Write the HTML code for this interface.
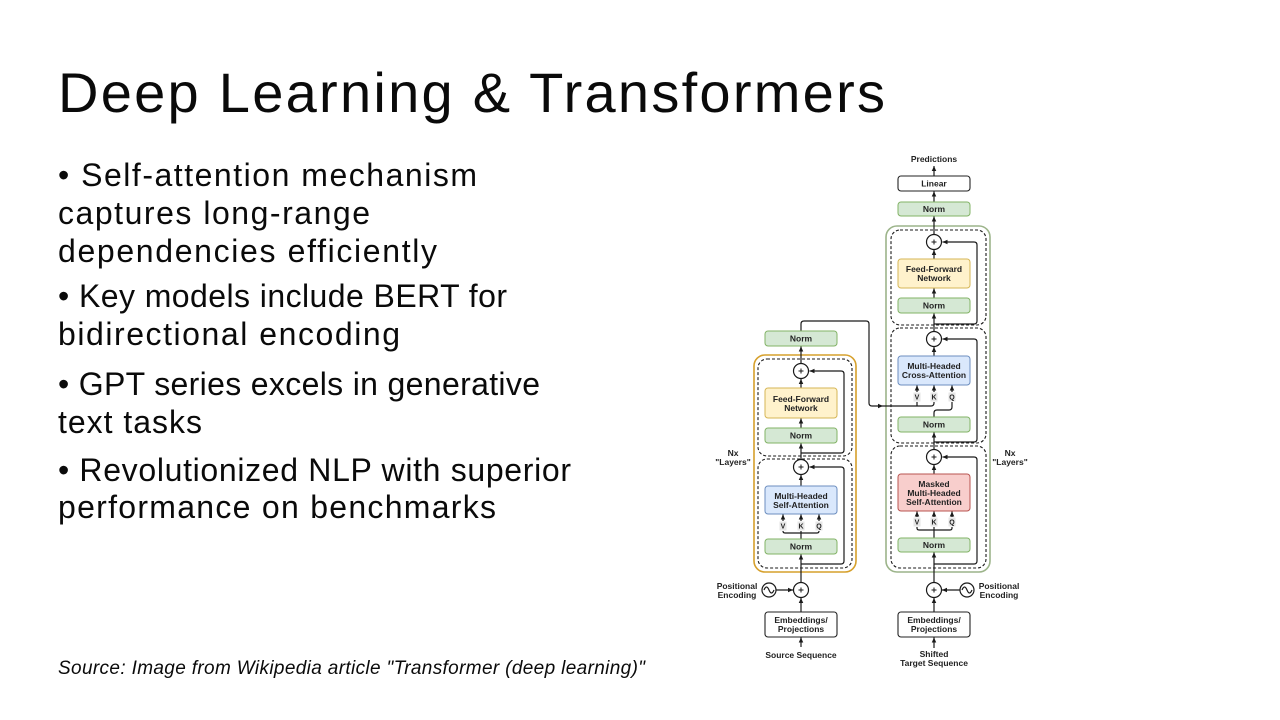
<!DOCTYPE html>
<html><head><meta charset="utf-8"><title>Deep Learning &amp; Transformers</title>
<style>
html,body{margin:0;padding:0;background:#fff;}
body{width:1280px;height:720px;overflow:hidden;}
svg{display:block;}
.t{font-family:"Liberation Sans",sans-serif;fill:#0a0a0a;}
.d{font-family:"Liberation Sans",sans-serif;font-weight:bold;font-size:8.5px;fill:#222;text-anchor:middle;}
.l{font-family:"Liberation Sans",sans-serif;font-weight:bold;font-size:7px;fill:#222;text-anchor:middle;}
.ln{fill:none;stroke:#1a1a1a;stroke-width:1.2;}
.ds{fill:none;stroke:#1a1a1a;stroke-width:1.1;stroke-dasharray:3 2;}
.g{fill:#d5e8d4;stroke:#82b366;stroke-width:1;}
.y{fill:#fff2cc;stroke:#d6b656;stroke-width:1;}
.bl{fill:#dae8fc;stroke:#6c8ebf;stroke-width:1;}
.r{fill:#f8cecc;stroke:#b85450;stroke-width:1;}
.w{fill:#fff;stroke:#222;stroke-width:1.1;}
.c{fill:#fff;stroke:#1a1a1a;stroke-width:1.2;}
.lb{fill:#e6e6e6;stroke:none;}
</style></head>
<body>
<svg width="1280" height="720" viewBox="0 0 1280 720" xmlns="http://www.w3.org/2000/svg">
<defs>
<marker id="ah" viewBox="0 0 10 10" refX="10" refY="5" markerWidth="5" markerHeight="5" markerUnits="userSpaceOnUse" orient="auto"><path d="M0,0.5 L10,5 L0,9.5 z" fill="#1a1a1a"/></marker>
</defs>

<!-- Title -->
<text class="t" x="58" y="112" font-size="56" textLength="827" lengthAdjust="spacing">Deep Learning &amp; Transformers</text>

<!-- Bullets -->
<g class="t" font-size="32">
<text x="58" y="186" textLength="419" lengthAdjust="spacing">• Self-attention mechanism</text>
<text x="58" y="224" textLength="312" lengthAdjust="spacing">captures long-range</text>
<text x="58" y="262" textLength="379" lengthAdjust="spacing">dependencies efficiently</text>
<text x="58" y="307" textLength="449" lengthAdjust="spacing">• Key models include BERT for</text>
<text x="58" y="345" textLength="342" lengthAdjust="spacing">bidirectional encoding</text>
<text x="58" y="395" textLength="482" lengthAdjust="spacing">• GPT series excels in generative</text>
<text x="58" y="433" textLength="144" lengthAdjust="spacing">text tasks</text>
<text x="58" y="481" textLength="513" lengthAdjust="spacing">• Revolutionized NLP with superior</text>
<text x="58" y="518" textLength="438" lengthAdjust="spacing">performance on benchmarks</text>
</g>

<text class="t" x="58" y="674" font-size="19" font-style="italic" textLength="587" lengthAdjust="spacing">Source: Image from Wikipedia article "Transformer (deep learning)"</text>

<!-- ===== Diagram ===== -->
<rect x="754" y="355" width="102" height="217" rx="11" fill="none" stroke="#d6a02c" stroke-width="1.6"/>
<rect x="886" y="226" width="104" height="346" rx="11" fill="none" stroke="#9cb48a" stroke-width="1.6"/>

<rect class="ds" x="758" y="359" width="94" height="97" rx="9"/>
<rect class="ds" x="758" y="459" width="94" height="109" rx="9"/>
<rect class="ds" x="891" y="230" width="95" height="95" rx="9"/>
<rect class="ds" x="891" y="328" width="95" height="115" rx="9"/>
<rect class="ds" x="891" y="446" width="95" height="122" rx="9"/>

<g class="ln">
<path d="M934,176 V166" marker-end="url(#ah)"/>
<path d="M934,202 V191.5" marker-end="url(#ah)"/>
<path d="M934,234.5 V216.5" marker-end="url(#ah)"/>
<path d="M934,259 V250" marker-end="url(#ah)"/>
<path d="M934,298 V288.5" marker-end="url(#ah)"/>
<path d="M934,331.5 V313.5" marker-end="url(#ah)"/>
<path d="M934,356 V347" marker-end="url(#ah)"/>
<path d="M934,449.5 V432.5" marker-end="url(#ah)"/>
<path d="M934,474 V465" marker-end="url(#ah)"/>
<path d="M934,582.5 V552.5" marker-end="url(#ah)"/>
<path d="M934,612 V598" marker-end="url(#ah)"/>
<path d="M934,648 V637.5" marker-end="url(#ah)"/>
<path d="M934,324 H974 Q977,324 977,321 V245 Q977,242 974,242 H942.5" marker-end="url(#ah)"/>
<path d="M934,442 H974 Q977,442 977,439 V342 Q977,339 974,339 H942.5" marker-end="url(#ah)"/>
<path d="M934,564 H974 Q977,564 977,561 V460 Q977,457 974,457 H942.5" marker-end="url(#ah)"/>
<path d="M960,590 H942" marker-end="url(#ah)"/>
<path d="M917,392 V385.5" marker-end="url(#ah)"/>
<path d="M934,392 V385.5" marker-end="url(#ah)"/>
<path d="M952,392 V385.5" marker-end="url(#ah)"/>
<path d="M801,331 V324 Q801,321 804,321 H866 Q869,321 869,324 V403 Q869,406 872,406 H883" marker-end="url(#ah)"/>
<path d="M883,406 H931 Q934,406 934,403 V402"/>
<path d="M917,402 V406"/>
<path d="M934,417 V413 Q934,410 937,410 H949 Q952,410 952,407 V402"/>
<path d="M917,517 V511.5" marker-end="url(#ah)"/>
<path d="M934,517 V511.5" marker-end="url(#ah)"/>
<path d="M952,517 V511.5" marker-end="url(#ah)"/>
<path d="M917,527 V528 Q917,530 919,530 H950 Q952,530 952,528 V527"/>
<path d="M934,538 V527"/>

<path d="M801,363.5 V346.5" marker-end="url(#ah)"/>
<path d="M801,388 V379" marker-end="url(#ah)"/>
<path d="M801,428 V418.5" marker-end="url(#ah)"/>
<path d="M801,459.5 V443.5" marker-end="url(#ah)"/>
<path d="M801,486 V475" marker-end="url(#ah)"/>
<path d="M801,582.5 V554.5" marker-end="url(#ah)"/>
<path d="M801,612 V598" marker-end="url(#ah)"/>
<path d="M801,647 V637.5" marker-end="url(#ah)"/>
<path d="M801,453 H841 Q844,453 844,450 V374 Q844,371 841,371 H809.5" marker-end="url(#ah)"/>
<path d="M801,564 H841 Q844,564 844,561 V470 Q844,467 841,467 H809.5" marker-end="url(#ah)"/>
<path d="M776,590 H793" marker-end="url(#ah)"/>
<path d="M783,521 V514.5" marker-end="url(#ah)"/>
<path d="M801,521 V514.5" marker-end="url(#ah)"/>
<path d="M819,521 V514.5" marker-end="url(#ah)"/>
<path d="M783,531 Q783,533 785,533 H817 Q819,533 819,531"/>
<path d="M801,539 V531"/>
</g>

<rect class="w" x="898" y="176" width="72" height="15" rx="3"/>
<rect class="g" x="898" y="202" width="72" height="14" rx="3"/>
<rect class="y" x="898" y="259" width="72" height="29" rx="3"/>
<rect class="g" x="898" y="298" width="72" height="15" rx="3"/>
<rect class="bl" x="898" y="356" width="72" height="29" rx="3"/>
<rect class="g" x="898" y="417" width="72" height="15" rx="3"/>
<rect class="r" x="898" y="474" width="72" height="37" rx="3"/>
<rect class="g" x="898" y="538" width="72" height="14" rx="3"/>
<rect class="w" x="898" y="612" width="72" height="25" rx="3"/>

<rect class="g" x="765" y="331" width="72" height="15" rx="3"/>
<rect class="y" x="765" y="388" width="72" height="30" rx="3"/>
<rect class="g" x="765" y="428" width="72" height="15" rx="3"/>
<rect class="bl" x="765" y="486" width="72" height="28" rx="3"/>
<rect class="g" x="765" y="539" width="72" height="15" rx="3"/>
<rect class="w" x="765" y="612" width="72" height="25" rx="3"/>

<rect class="lb" x="913.5" y="392.5" width="7" height="9"/>
<rect class="lb" x="930.5" y="392.5" width="7" height="9"/>
<rect class="lb" x="948.5" y="392.5" width="7" height="9"/>
<rect class="lb" x="913.5" y="517.5" width="7" height="9"/>
<rect class="lb" x="930.5" y="517.5" width="7" height="9"/>
<rect class="lb" x="948.5" y="517.5" width="7" height="9"/>
<rect class="lb" x="779.5" y="521.5" width="7" height="9"/>
<rect class="lb" x="797.5" y="521.5" width="7" height="9"/>
<rect class="lb" x="815.5" y="521.5" width="7" height="9"/>

<g>
<circle class="c" cx="934" cy="242" r="7.5"/>
<circle class="c" cx="934" cy="339" r="7.5"/>
<circle class="c" cx="934" cy="457" r="7.5"/>
<circle class="c" cx="934" cy="590" r="7.5"/>
<circle class="c" cx="801" cy="371" r="7.5"/>
<circle class="c" cx="801" cy="467" r="7.5"/>
<circle class="c" cx="801" cy="590" r="7.5"/>
</g>
<g stroke="#1a1a1a" stroke-width="1">
<path d="M931.5,242 H936.5 M934,239.5 V244.5"/>
<path d="M931.5,339 H936.5 M934,336.5 V341.5"/>
<path d="M931.5,457 H936.5 M934,454.5 V459.5"/>
<path d="M931.5,590 H936.5 M934,587.5 V592.5"/>
<path d="M798.5,371 H803.5 M801,368.5 V373.5"/>
<path d="M798.5,467 H803.5 M801,464.5 V469.5"/>
<path d="M798.5,590 H803.5 M801,587.5 V592.5"/>
</g>

<circle class="c" cx="967" cy="590" r="7"/>
<circle class="c" cx="769" cy="590" r="7"/>
<path class="ln" stroke-width="1" d="M962,590 Q964.5,584 967,590 T972,590"/>
<path class="ln" stroke-width="1" d="M764,590 Q766.5,584 769,590 T774,590"/>

<text class="d" x="934" y="162">Predictions</text>
<text class="d" x="934" y="186.5">Linear</text>
<text class="d" x="934" y="212">Norm</text>
<text class="d" x="934" y="272">Feed-Forward</text>
<text class="d" x="934" y="281">Network</text>
<text class="d" x="934" y="308.5">Norm</text>
<text class="d" x="934" y="369">Multi-Headed</text>
<text class="d" x="934" y="378">Cross-Attention</text>
<text class="d" x="934" y="427.5">Norm</text>
<text class="d" x="934" y="487">Masked</text>
<text class="d" x="934" y="496">Multi-Headed</text>
<text class="d" x="934" y="505">Self-Attention</text>
<text class="d" x="934" y="548">Norm</text>
<text class="d" x="934" y="623">Embeddings/</text>
<text class="d" x="934" y="632">Projections</text>
<text class="d" x="934" y="657">Shifted</text>
<text class="d" x="934" y="666">Target Sequence</text>
<text class="d" x="999" y="589">Positional</text>
<text class="d" x="999" y="598">Encoding</text>
<text class="d" x="1010" y="456">Nx</text>
<text class="d" x="1010" y="465">"Layers"</text>

<text class="d" x="801" y="341.5">Norm</text>
<text class="d" x="801" y="402">Feed-Forward</text>
<text class="d" x="801" y="411">Network</text>
<text class="d" x="801" y="438.5">Norm</text>
<text class="d" x="801" y="499">Multi-Headed</text>
<text class="d" x="801" y="508">Self-Attention</text>
<text class="d" x="801" y="549.5">Norm</text>
<text class="d" x="801" y="623">Embeddings/</text>
<text class="d" x="801" y="632">Projections</text>
<text class="d" x="801" y="658">Source Sequence</text>
<text class="d" x="737" y="589">Positional</text>
<text class="d" x="737" y="598">Encoding</text>
<text class="d" x="733" y="456">Nx</text>
<text class="d" x="733" y="465">"Layers"</text>

<text class="l" x="917" y="399.5">V</text>
<text class="l" x="934" y="399.5">K</text>
<text class="l" x="952" y="399.5">Q</text>
<text class="l" x="917" y="524.5">V</text>
<text class="l" x="934" y="524.5">K</text>
<text class="l" x="952" y="524.5">Q</text>
<text class="l" x="783" y="528.5">V</text>
<text class="l" x="801" y="528.5">K</text>
<text class="l" x="819" y="528.5">Q</text>
</svg>
</body></html>
